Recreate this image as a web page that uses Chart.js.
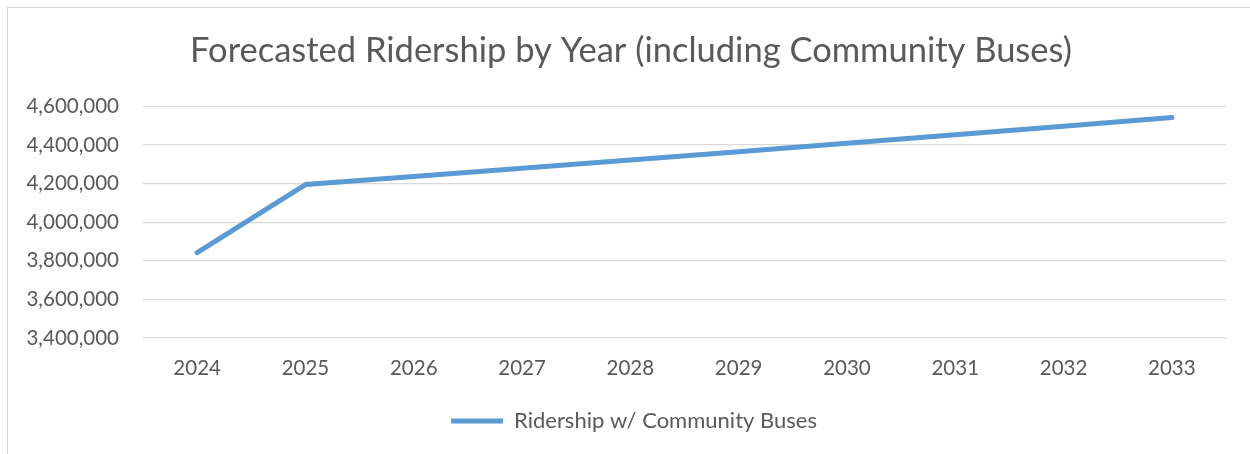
<!DOCTYPE html>
<html>
<head>
<meta charset="utf-8">
<title>Forecasted Ridership</title>
<script src="https://cdn.jsdelivr.net/npm/chart.js@4/dist/chart.umd.min.js"></script>
<style>
    html, body { margin: 0; padding: 0; background: #ffffff; overflow: hidden; }
    #marco { position: absolute; left: 7px; top: 7px; width: 1260px; height: 470px; border: 1px solid #d9d9d9; }
    #contenedor { position: absolute; left: 0; top: 0; width: 1250px; height: 454px; }
</style>
</head>
<body>
<div id="marco"></div>
<div id="contenedor"><canvas id="grafico1"></canvas></div>
<script>
// Datos del gráfico
const years = ['2024', '2025', '2026', '2027', '2028', '2029', '2030', '2031', '2032', '2033'];
const ridership = [3842000, 4195000, 4237000, 4279000, 4322000, 4365000, 4409000, 4453000, 4497000, 4542000];
const yMin = 3400000;
const yMax = 4600000;
const yStep = 200000;

document.addEventListener('DOMContentLoaded', function() {
    const textColor = '#595959';
    const fontFamily = 'Lato, "Open Sans", sans-serif';

    // Centra el título y la leyenda sobre el marco del gráfico y no sobre el canvas
    const centrarBloques = {
        id: 'centrarBloques',
        afterLayout: function(chart) {
            if (chart.titleBlock) {
                chart.titleBlock.left = 36;
            }
            if (chart.legend) {
                chart.legend.left = 42;
            }
        }
    };

    // Obtiene el contexto del canvas
    const ctx1 = document.getElementById('grafico1').getContext('2d');

    // Configuración del gráfico
    const chart1 = new Chart(ctx1, {
        type: 'line',
        data: {
            labels: years,
            datasets: [{
                label: 'Ridership w/ Community Buses',
                data: ridership,
                borderColor: '#5B9BD5',
                backgroundColor: '#5B9BD5',
                borderWidth: 5,
                borderCapStyle: 'round',
                borderJoinStyle: 'round',
                pointRadius: 0,
                pointHoverRadius: 0,
                tension: 0
            }]
        },
        options: {
            responsive: true,
            maintainAspectRatio: false,
            animation: false,
            layout: {
                padding: { left: 18, right: 24, top: 7, bottom: 12 }
            },
            scales: {
                x: {
                    offset: true,
                    grid: { display: false },
                    border: { display: false },
                    ticks: {
                        color: textColor,
                        padding: 10,
                        maxRotation: 0,
                        font: { family: fontFamily, size: 20.5 }
                    },
                    afterFit: function(scale) { scale.height = 62; }
                },
                y: {
                    min: yMin,
                    max: yMax,
                    border: { display: false },
                    grid: {
                        color: '#d9d9d9',
                        lineWidth: 1.3,
                        drawTicks: false
                    },
                    ticks: {
                        stepSize: yStep,
                        color: textColor,
                        padding: 24,
                        font: { family: fontFamily, size: 20.5 },
                        callback: function(value) {
                            return Number(value).toLocaleString('en-US');
                        }
                    },
                    afterFit: function(scale) { scale.width = 125; }
                }
            },
            plugins: {
                legend: {
                    display: true,
                    position: 'bottom',
                    labels: {
                        color: textColor,
                        usePointStyle: true,
                        pointStyle: 'line',
                        pointStyleWidth: 52,
                        font: { family: fontFamily, size: 22 }
                    }
                },
                title: {
                    display: true,
                    text: 'Forecasted Ridership by Year (including Community Buses)',
                    color: textColor,
                    font: { family: fontFamily, size: 34.5, weight: 'normal' },
                    padding: { top: 23, bottom: 35 }
                },
                tooltip: { enabled: false }
            }
        },
        plugins: [centrarBloques]
    });
});
</script>
</body>
</html>
